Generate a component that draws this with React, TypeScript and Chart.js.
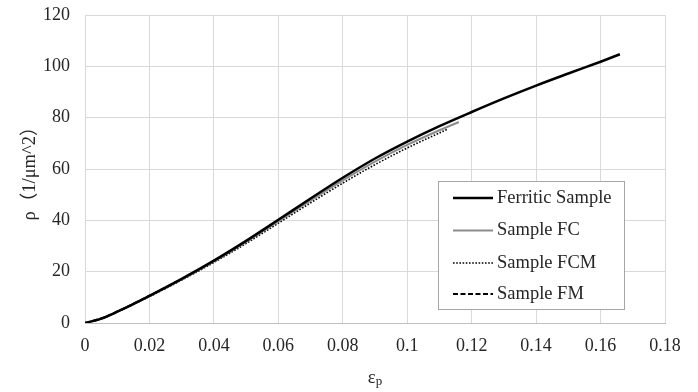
import React, { useEffect, useRef } from "react";
import { Chart, registerables } from "chart.js";

Chart.register(...registerables);

const xTicks = [0, 0.02, 0.04, 0.06, 0.08, 0.1, 0.12, 0.14, 0.16, 0.18];
const yTicks = [0, 20, 40, 60, 80, 100, 120];

const ferriticX = [0, 0.005, 0.01, 0.02, 0.03, 0.04, 0.05, 0.06, 0.07, 0.08, 0.09, 0.1, 0.11, 0.12, 0.13, 0.14, 0.15, 0.16, 0.166];
const ferriticY = [0, 1.7, 4.4, 10.6, 17.2, 24.3, 32, 40.2, 48.5, 56.6, 64.1, 70.7, 76.7, 82.2, 87.5, 92.5, 97.2, 101.8, 104.7];

const fcX = [0, 0.005, 0.01, 0.02, 0.03, 0.04, 0.05, 0.06, 0.07, 0.08, 0.09, 0.1, 0.11, 0.116];
const fcY = [0, 1.7, 4.4, 10.5, 17, 24, 31.6, 39.6, 47.7, 55.6, 62.9, 69.4, 75.1, 78.3];

const fcmX = [0, 0.005, 0.01, 0.02, 0.03, 0.04, 0.05, 0.06, 0.07, 0.08, 0.09, 0.1, 0.1127];
const fcmY = [0, 1.6, 4.3, 10.3, 16.7, 23.6, 31, 38.9, 46.8, 54.5, 61.7, 68.2, 75.6];

const fmX = [0, 0.005, 0.01, 0.02, 0.03, 0.04, 0.05, 0.062];
const fmY = [0, 1.7, 4.4, 10.6, 17.1, 24.1, 31.8, 41.4];

const seriesLabels = ["Ferritic Sample", "Sample FC", "Sample FCM", "Sample FM"];
const yTitle = "ρ（1/μm^2）";
const xTitleMain = "ε";
const xTitleSub = "p";

const FONT = "'Times New Roman', 'Liberation Serif', 'Noto Sans CJK SC', serif";

const toPoints = (xs: number[], ys: number[]) => xs.map((x, i) => ({ x, y: ys[i] }));

const styles = [
  { color: "#000000", width: 2.5, dash: [] as number[] },
  { color: "#8c8c8c", width: 2, dash: [] as number[] },
  { color: "#000000", width: 1.6, dash: [1.6, 1.6] },
  { color: "#000000", width: 2.2, dash: [5, 2.5] },
];

export default function App() {
  const ref = useRef<HTMLCanvasElement | null>(null);
  useEffect(() => {
    if (!ref.current) return;
    const titlesPlugin = {
      id: "titlesAndLegend",
      afterDraw(chart: any) {
        const ctx = chart.ctx as CanvasRenderingContext2D;
        const area = chart.chartArea;
        ctx.save();
        ctx.fillStyle = "#262626";
        ctx.font = `18.5px ${FONT}`;
        ctx.textAlign = "center";
        ctx.textBaseline = "middle";
        ctx.translate(30, (area.top + area.bottom) / 2);
        ctx.rotate(-Math.PI / 2);
        ctx.fillText(yTitle, 0, 0);
        ctx.restore();
        ctx.save();
        ctx.fillStyle = "#262626";
        ctx.textBaseline = "alphabetic";
        ctx.font = `18.5px ${FONT}`;
        const wMain = ctx.measureText(xTitleMain).width;
        ctx.font = `13px ${FONT}`;
        const wSub = ctx.measureText(xTitleSub).width;
        const cx = (area.left + area.right) / 2;
        const startX = cx - (wMain + wSub) / 2;
        ctx.textAlign = "left";
        ctx.font = `18.5px ${FONT}`;
        ctx.fillText(xTitleMain, startX, 383);
        ctx.font = `13px ${FONT}`;
        ctx.fillText(xTitleSub, startX + wMain, 385);
        ctx.restore();
        ctx.save();
        const bx = 438.5, by = 181.5, bw = 186, bh = 128;
        ctx.fillStyle = "#ffffff";
        ctx.fillRect(bx, by, bw, bh);
        ctx.strokeStyle = "#a6a6a6";
        ctx.lineWidth = 1;
        ctx.strokeRect(bx, by, bw, bh);
        const rows = [198, 230.5, 263, 294];
        ctx.font = `18.5px ${FONT}`;
        ctx.textAlign = "left";
        ctx.textBaseline = "middle";
        seriesLabels.forEach((label, i) => {
          const s = styles[i];
          ctx.beginPath();
          ctx.strokeStyle = s.color;
          ctx.lineWidth = s.width;
          ctx.setLineDash(s.dash);
          ctx.moveTo(453, rows[i]);
          ctx.lineTo(493, rows[i]);
          ctx.stroke();
          ctx.setLineDash([]);
          ctx.fillStyle = "#262626";
          ctx.fillText(label, 497, rows[i]);
        });
        ctx.restore();
      },
    };
    const data = [
      toPoints(ferriticX, ferriticY),
      toPoints(fcX, fcY),
      toPoints(fcmX, fcmY),
      toPoints(fmX, fmY),
    ];
    const chart = new Chart(ref.current, {
      type: "line",
      data: {
        datasets: data.map((d, i) => ({
          label: seriesLabels[i],
          data: d,
          borderColor: styles[i].color,
          borderWidth: styles[i].width,
          borderDash: styles[i].dash,
          pointRadius: 0,
          fill: false,
          cubicInterpolationMode: "monotone" as const,
        })),
      },
      options: {
        animation: false,
        responsive: false,
        layout: { padding: { left: 0, top: 15, right: 33, bottom: 0 } },
        plugins: { legend: { display: false }, tooltip: { enabled: false } },
        scales: {
          x: {
            type: "linear",
            min: xTicks[0],
            max: xTicks[xTicks.length - 1],
            afterBuildTicks: (s: any) => {
              s.ticks = xTicks.map((v) => ({ value: v }));
            },
            afterFit: (s: any) => {
              s.height = 69;
              s.paddingLeft = 0;
              s.paddingRight = 0;
            },
            grid: { color: "#d9d9d9", drawTicks: false },
            border: { color: "#bfbfbf", width: 1 },
            ticks: {
              padding: 12,
              color: "#262626",
              font: { family: FONT, size: 18 },
              maxRotation: 0,
              callback: (v: any) => String(Number(Number(v).toFixed(2))),
            },
          },
          y: {
            type: "linear",
            min: yTicks[0],
            max: yTicks[yTicks.length - 1],
            afterBuildTicks: (s: any) => {
              s.ticks = yTicks.map((v) => ({ value: v }));
            },
            afterFit: (s: any) => {
              s.width = 85;
              s.paddingTop = 0;
              s.paddingBottom = 0;
            },
            grid: { color: "#d9d9d9", drawTicks: false },
            border: { display: false },
            ticks: {
              padding: 15,
              color: "#262626",
              font: { family: FONT, size: 18 },
            },
          },
        },
      },
      plugins: [titlesPlugin],
    });
    return () => chart.destroy();
  }, []);
  return (
    <canvas
      ref={ref}
      width={698}
      height={392}
      style={{ position: "absolute", left: 0, top: 0, width: 698, height: 392 }}
    />
  );
}
